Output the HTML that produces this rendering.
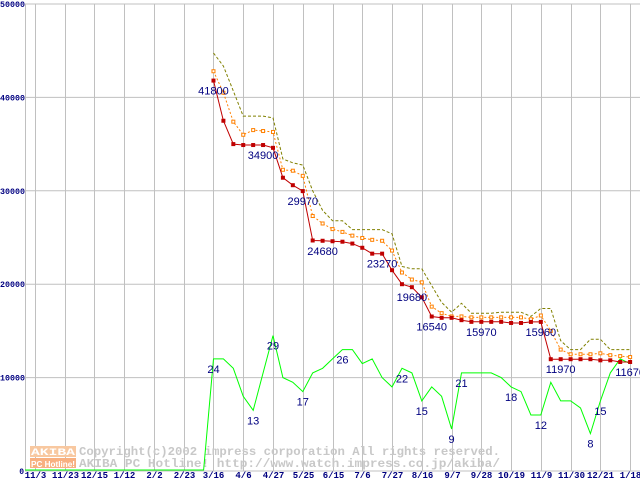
<!DOCTYPE html>
<html><head><meta charset="utf-8"><style>
html,body{margin:0;padding:0;background:#fff;}
svg{display:block;}
</style></head><body>
<svg id="chart" width="640" height="480" xmlns="http://www.w3.org/2000/svg"></svg>
<script>
const xLabels=["11/3","11/23","12/15","1/12","2/2","2/23","3/16","4/6","4/27","5/25","6/15","7/6","7/27","8/16","9/7","9/28","10/19","11/9","11/30","12/21","1/18"];
const yTicks=[0,10000,20000,30000,40000,50000];
const startWeek=19;
const minPrice=[41800,37500,35000,34900,34900,34900,34600,31400,30600,29970,24680,24650,24600,24550,24350,23900,23270,23270,21500,20000,19680,18600,16540,16400,16400,16150,15970,15970,15970,15970,15850,15850,15960,15960,11970,11970,11970,11970,11970,11850,11850,11670,11670];
const avgPrice=[42800,40500,37400,36000,36500,36400,36300,32250,32150,31600,27300,26500,25900,25600,25200,24950,24750,24650,23600,21250,20500,20200,17600,16900,16550,16550,16450,16450,16450,16450,16450,16450,16250,16650,15000,13000,12500,12500,12500,12600,12400,12300,12200];
const maxPrice=[44750,43350,40700,38000,38000,38000,37800,33400,33000,32750,30000,27900,26800,26800,25850,25850,25850,25850,25400,21900,21650,21650,19850,18050,17000,17950,16900,16900,16900,17000,17000,17000,16550,17400,17400,13950,13000,13000,14100,14100,13000,13000,13000];
const shopCount=[24,24,22,16,13,21,29,20,19,17,21,22,24,26,26,23,24,20,18,22,21,15,18,16,9,21,21,21,21,20,18,17,12,12,19,15,15,13.5,8,15,21,24,23];
const priceLabelIdx=[0,5,9,11,17,20,22,27,33,35,42];
const priceLabelText=["41800","34900","29970","24680","23270","19680","16540","15970","15960","11970","11670"];
const countLabelIdx=[0,4,6,9,13,19,21,24,25,30,33,38,39];
const countLabelText=["24","13","29","17","26","22","15","9","21","18","12","8","15"];
const countScale=500;

const svg=document.getElementById('chart');
const NS='http://www.w3.org/2000/svg';
const X0=25, STEP=9.92, YB=471, PXPER=93.4/10000;
function xw(k){return X0+k*STEP;}
function xi(i){return xw(startWeek+i);}
function yv(v){return YB-v*PXPER;}
function mk(tag,attrs,parent){const e=document.createElementNS(NS,tag);for(const k in attrs)e.setAttribute(k,attrs[k]);(parent||svg).appendChild(e);return e;}

// grid
const grid=mk('g',{});


yTicks.forEach(v=>{
  const l=mk('line',{x1:X0,x2:640,y1:yv(v),y2:yv(v),stroke:'#c0c0c0','stroke-width':1},grid);
  
  
  const s=String(v);
  const attrs={x:v===0?24:0,y:yv(v)+3,'text-anchor':v===0?'end':'start','font-family':'Liberation Mono, monospace','font-size':'8','font-weight':'bold',fill:'#000080'};
  if(s.length===5){attrs.textLength=25;attrs.lengthAdjust='spacingAndGlyphs';}
  const t=mk('text',attrs);
  t.textContent=s;
  
  
});
mk('line',{x1:X0+0.5,x2:X0+0.5,y1:yv(50000),y2:YB,stroke:'#c0c0c0'},grid);
xLabels.forEach((lab,j)=>{
  const x=Math.round(xw(1+3*j))+0.5;
  const l=mk('line',{x1:x,x2:x,y1:yv(50000),y2:YB,stroke:'#c0c0c0','stroke-width':1},grid);
  
  
  const t=mk('text',{x:x,y:478,'text-anchor':'middle','font-family':'Liberation Mono, monospace','font-size':'9','font-weight':'bold',fill:'#000080'});
  t.textContent=lab;
  
  
});

// watermark
const wm=mk('g',{});


mk('rect',{x:30,y:446,width:46,height:11,fill:'#f8c8a0'},wm);
mk('rect',{x:30,y:458,width:46,height:10,fill:'#f8b080'},wm);
const w1=mk('text',{x:31,y:455,'font-family':'Liberation Mono, monospace','font-size':'10','font-weight':'bold',fill:'#fff',textLength:44,lengthAdjust:'spacingAndGlyphs'},wm);w1.textContent='AKIBA';
const w2=mk('text',{x:31,y:467,'font-family':'Liberation Sans, sans-serif','font-size':'8','font-weight':'bold',fill:'#fff',textLength:44,lengthAdjust:'spacingAndGlyphs'},wm);w2.textContent='PC Hotline!';
const w3=mk('text',{x:79,y:455,'font-family':'Liberation Mono, monospace','font-size':'12','font-weight':'bold',fill:'#c8c8c8',textLength:421,lengthAdjust:'spacingAndGlyphs'},wm);w3.textContent='Copyright(c)2002 impress corporation All rights reserved.';
const w4=mk('text',{x:79,y:467,'font-family':'Liberation Mono, monospace','font-size':'12','font-weight':'bold',fill:'#c8c8c8',textLength:421,lengthAdjust:'spacingAndGlyphs'},wm);w4.textContent='AKIBA PC Hotline! http://www.watch.impress.co.jp/akiba/';

function poly(arr,scale,color,dash,name){
  const pts=arr.map((v,i)=>xi(i).toFixed(1)+','+yv(v*scale).toFixed(1)).join(' ');
  const p=mk('polyline',{points:pts,fill:'none',stroke:color,'stroke-width':1});
  if(dash)p.setAttribute('stroke-dasharray',dash);
  
  
  return p;
}
// green count series incl. zero prefix
let gpts=[];
for(let k=0;k<startWeek;k++)gpts.push(xw(k).toFixed(1)+','+(YB-1));
gpts[0]=X0+','+(YB-1);
shopCount.forEach((v,i)=>gpts.push(xi(i).toFixed(1)+','+yv(v*countScale).toFixed(1)));
const gl=mk('polyline',{points:gpts.join(' '),fill:'none',stroke:'#00ff00','stroke-width':1});



poly(maxPrice,1,'#808000','3,2','max-price-line');
poly(avgPrice,1,'#ff8000','2,2','avg-price-line');
avgPrice.forEach((v,i)=>{
  const r=mk('rect',{x:xi(i)-1.5,y:yv(v)-1.5,width:3,height:3,fill:'#fff',stroke:'#ff8000','stroke-width':1});
  
  
});
poly(minPrice,1,'#c00000',null,'min-price-line');
minPrice.forEach((v,i)=>{
  const r=mk('rect',{x:xi(i)-2,y:yv(v)-2,width:4,height:4,fill:'#c00000'});
  
  
});
priceLabelIdx.forEach((idx,j)=>{
  const t=mk('text',{x:xi(idx),y:yv(minPrice[idx])+14,'text-anchor':'middle','font-family':'Liberation Sans, sans-serif','font-size':'11',fill:'#000080'});
  t.textContent=priceLabelText[j];
  
  
});
countLabelIdx.forEach((idx,j)=>{
  const t=mk('text',{x:xi(idx),y:yv(shopCount[idx]*countScale)+14,'text-anchor':'middle','font-family':'Liberation Sans, sans-serif','font-size':'11',fill:'#000080'});
  t.textContent=countLabelText[j];
  
  
});
</script>
</body></html>
